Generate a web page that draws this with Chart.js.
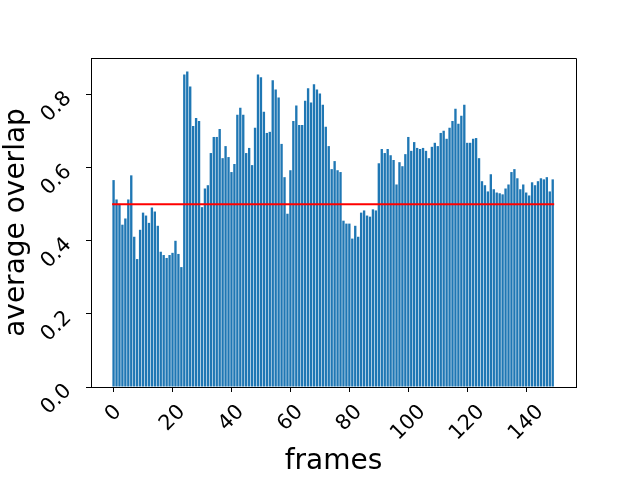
<!DOCTYPE html>
<html>
<head>
<meta charset="utf-8">
<script src="https://cdn.jsdelivr.net/npm/chart.js@4"></script>
<style>
  body { margin: 0; background: #fff; }
</style>
</head>
<body>
<canvas id="overlapChart" width="640" height="480"></canvas>
<script>
// average overlap per frame
const overlap = [
  0.566, 0.513, 0.501, 0.444, 0.461, 0.513, 0.579, 0.411, 0.350, 0.430,
  0.477, 0.469, 0.449, 0.491, 0.480, 0.441, 0.370, 0.361, 0.353, 0.361,
  0.367, 0.400, 0.364, 0.328, 0.855, 0.863, 0.822, 0.714, 0.736, 0.728,
  0.492, 0.543, 0.552, 0.640, 0.684, 0.684, 0.706, 0.626, 0.659, 0.629,
  0.588, 0.610, 0.745, 0.764, 0.745, 0.640, 0.654, 0.607, 0.709, 0.855,
  0.847, 0.753, 0.695, 0.698, 0.839, 0.814, 0.792, 0.665, 0.574, 0.474,
  0.593, 0.728, 0.770, 0.717, 0.717, 0.783, 0.817, 0.778, 0.828, 0.814,
  0.803, 0.772, 0.712, 0.659, 0.596, 0.618, 0.593, 0.588, 0.455, 0.447,
  0.447, 0.406, 0.441, 0.411, 0.477, 0.483, 0.469, 0.466, 0.486, 0.483,
  0.612, 0.651, 0.640, 0.651, 0.634, 0.621, 0.554, 0.615, 0.604, 0.637,
  0.684, 0.646, 0.670, 0.654, 0.651, 0.654, 0.646, 0.626, 0.657, 0.668,
  0.659, 0.695, 0.701, 0.679, 0.709, 0.728, 0.761, 0.720, 0.742, 0.772,
  0.668, 0.668, 0.679, 0.681, 0.626, 0.563, 0.552, 0.535, 0.582, 0.541,
  0.532, 0.530, 0.527, 0.543, 0.554, 0.588, 0.596, 0.571, 0.541, 0.554,
  0.532, 0.524, 0.560, 0.552, 0.563, 0.571, 0.568, 0.574, 0.535, 0.568
];
const threshold = 0.5;
const lineStart = -0.5;
const lineEnd = 149.5;

const xTicks = [0, 20, 40, 60, 80, 100, 120, 140];
const yTicks = [0.0, 0.2, 0.4, 0.6, 0.8];

const FONT = 'DejaVu Sans';

// spines on top/right + rotated tick labels like the original
const frameLabels = {
  id: 'frameLabels',
  afterDraw(chart) {
    const { ctx, chartArea: a, scales: { x, y } } = chart;
    ctx.save();
    ctx.strokeStyle = '#000';
    ctx.lineWidth = 1;
    ctx.beginPath();
    ctx.moveTo(a.left, a.top + 0.5);
    ctx.lineTo(a.right + 0.5, a.top + 0.5);
    ctx.lineTo(a.right + 0.5, a.bottom);
    ctx.stroke();

    const size = 20.8;
    const h = 0.73 * size;
    const k = Math.SQRT1_2;
    ctx.font = size + 'px "' + FONT + '"';
    ctx.fillStyle = '#000';
    ctx.textAlign = 'left';
    ctx.textBaseline = 'alphabetic';

    const drawRotated = (t, cx, cy, w) => {
      ctx.save();
      ctx.translate(cx, cy);
      ctx.rotate(-Math.PI / 4);
      ctx.fillText(t, -w / 2, h / 2);
      ctx.restore();
    };

    xTicks.forEach(v => {
      const t = String(v);
      const w = ctx.measureText(t).width;
      const H = (w + h) * k;
      drawRotated(t, x.getPixelForValue(v) - 1.5, a.bottom + 15 + H / 2, w);
    });
    yTicks.forEach(v => {
      const t = v.toFixed(1);
      const w = ctx.measureText(t).width;
      const W = (w + h) * k;
      drawRotated(t, a.left - 19 - W / 2, y.getPixelForValue(v) + 11, w);
    });
    ctx.restore();
  }
};

const titleFont = { family: FONT, size: 28, lineHeight: 1.2 };

new Chart(document.getElementById('overlapChart'), {
  type: 'bar',
  data: {
    datasets: [
      {
        type: 'line',
        data: [{ x: lineStart, y: threshold }, { x: lineEnd, y: threshold }],
        borderColor: '#ff0000',
        borderWidth: 2,
        pointRadius: 0,
        order: 0
      },
      {
        type: 'bar',
        data: overlap.map((v, i) => ({ x: i, y: v })),
        backgroundColor: '#1f77b4',
        borderWidth: 0,
        barPercentage: 0.8,
        categoryPercentage: 1.0,
        order: 1
      }
    ]
  },
  options: {
    responsive: false,
    animation: false,
    layout: { padding: { top: 58, right: 64, bottom: 0, left: 0 } },
    plugins: {
      legend: { display: false },
      tooltip: { enabled: false }
    },
    scales: {
      x: {
        type: 'linear',
        min: -7.66,
        max: 156.9,
        offset: false,
        afterBuildTicks: s => { s.ticks = xTicks.map(v => ({ value: v })); },
        afterFit: s => { s.height = 93; },
        ticks: { display: false },
        grid: {
          display: true,
          offset: false,
          drawOnChartArea: false,
          drawTicks: true,
          tickLength: 5,
          tickWidth: 1,
          tickColor: '#000'
        },
        border: { display: true, color: '#000', width: 1 },
        title: {
          display: true,
          text: 'frames',
          color: '#000',
          font: titleFont,
          padding: { top: 0, bottom: 1 }
        }
      },
      y: {
        min: 0,
        max: 0.9,
        afterBuildTicks: s => { s.ticks = yTicks.map(v => ({ value: v })); },
        afterFit: s => { s.width = 91; },
        ticks: { display: false },
        grid: {
          display: true,
          drawOnChartArea: false,
          drawTicks: true,
          tickLength: 5,
          tickWidth: 1,
          tickColor: '#000'
        },
        border: { display: true, color: '#000', width: 1 },
        title: {
          display: true,
          text: 'average overlap',
          color: '#000',
          font: titleFont,
          padding: { top: 0, bottom: 0 }
        }
      }
    }
  },
  plugins: [frameLabels]
});
</script>
</body>
</html>
